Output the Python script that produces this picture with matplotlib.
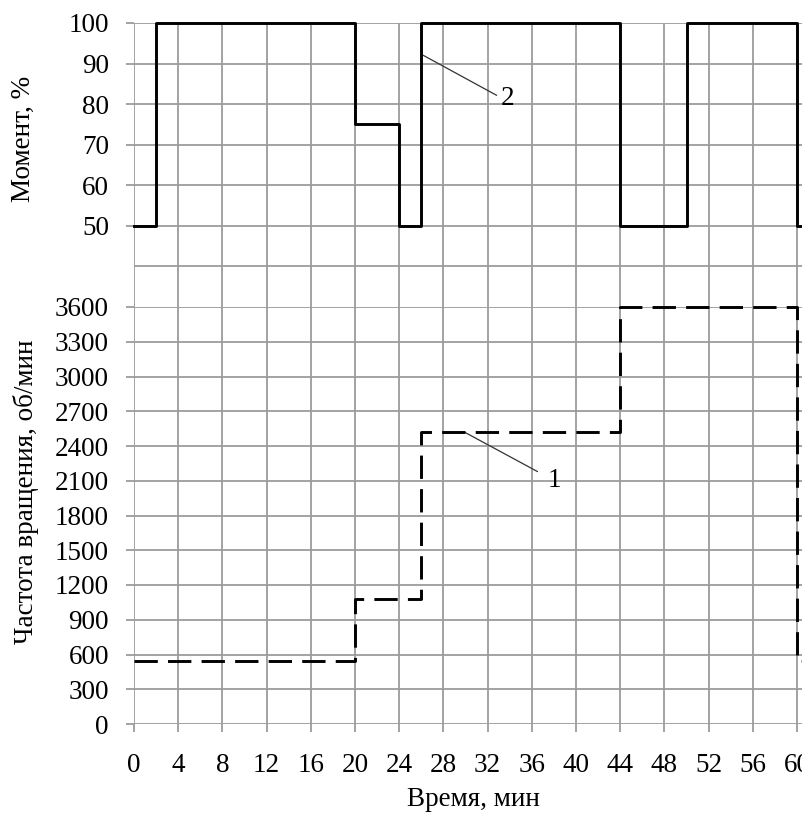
import matplotlib
matplotlib.use('Agg')
import matplotlib.pyplot as plt

plt.rcParams['font.family'] = ['Liberation Serif', 'DejaVu Serif']

# time axis, min
time_ticks = list(range(0, 61, 4))

# curve 2: moment, %
moment_time = [0, 2, 20, 24, 26, 44, 50, 60, 66]
moment = [50, 100, 75, 50, 100, 50, 100, 50, 50]
moment_ticks = [50, 60, 70, 80, 90, 100]

# curve 1: rotation speed, rpm
speed_time = [0, 20, 26, 44, 60, 66]
speed = [540, 1080, 2520, 3600, 540, 540]
speed_ticks = list(range(0, 3601, 300))

GRID = '#9c9c9c'
FS = 19.5
W, H = 803, 814

fig = plt.figure(figsize=(W / 100, H / 100), dpi=100)

x0 = 134
px_per_min = (797 - 134) / 60.0
xmax = 64
ax_w = xmax * px_per_min / W

# top axes (moment), spans 100 .. 30
ax_top = fig.add_axes([x0 / W, 1 - 307 / H, ax_w, (307 - 23) / H])
# bottom axes (speed), spans 3600 .. 0
ax_bot = fig.add_axes([x0 / W, 1 - 724 / H, ax_w, (724 - 307) / H])

for ax in (ax_top, ax_bot):
    for s in ax.spines.values():
        s.set_visible(False)
    ax.set_xlim(0, xmax)
    ax.set_xticks(time_ticks)
    ax.grid(True, color=GRID, linewidth=1.3)
    ax.set_axisbelow(True)
    ax.tick_params(colors=GRID, labelcolor='black', labelsize=FS,
                   direction='out', length=6, width=1.3)

ax_top.set_ylim(30, 100)
ax_top.set_yticks(moment_ticks)
ax_top.axhline(40, color=GRID, linewidth=1.3, zorder=0.5)
ax_top.tick_params(axis='x', length=0, labelbottom=False)
ax_top.tick_params(axis='y', pad=12)
ax_top.step(moment_time, moment, where='post', color='black',
            linewidth=2.1, clip_on=False, zorder=3)

ax_bot.set_ylim(0, 3600)
ax_bot.set_yticks(speed_ticks)
ax_bot.tick_params(axis='y', pad=12)
ax_bot.tick_params(axis='x', pad=15)
ax_bot.step(speed_time, speed, where='post', color='black',
            linewidth=2.1, linestyle=(0, (8, 3.5)), clip_on=False, zorder=3)

# leader lines and curve numbers
ax_top.plot([26.2, 32.8], [92.0, 82.2], color='#333333', linewidth=0.9)
ax_top.text(33.8, 81.3, '2', fontsize=FS, ha='center', va='center')
ax_bot.plot([30.0, 36.5], [2515, 2180], color='#333333', linewidth=0.9)
ax_bot.text(38.0, 2098, '1', fontsize=FS, ha='center', va='center')

fig.text(23 / W, 1 - 139 / H, 'Момент, %', rotation=90, fontsize=FS,
         ha='center', va='center')
fig.text(26 / W, 1 - 492 / H, 'Частота вращения, об/мин', rotation=90,
         fontsize=FS, ha='center', va='center')
fig.text(473 / W, 1 - 800 / H, 'Время, мин', fontsize=FS,
         ha='center', va='center')

fig.savefig('out.png', dpi=100)
